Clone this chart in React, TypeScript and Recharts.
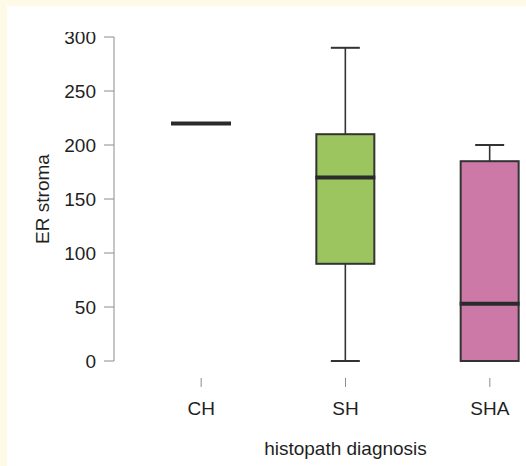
import React from 'react';
import { ComposedChart, Bar, XAxis, YAxis } from 'recharts';

const categories = ['CH', 'SH', 'SHA'];
const mins = [220, 0, 0];
const q1s = [220, 90, 0];
const medians = [220, 170, 53];
const q3s = [220, 210, 185];
const maxs = [220, 290, 200];
const fills = ['#ffffff', '#9cc45f', '#cc79a7'];
const yTicks = [0, 50, 100, 150, 200, 250, 300];

const data = categories.map((c, i) => ({
  name: c,
  min: mins[i],
  q1: q1s[i],
  median: medians[i],
  q3: q3s[i],
  max: maxs[i],
  fill: fills[i],
}));

const FONT = '"Liberation Sans", Arial, sans-serif';
const TEXT = '#1f1f1f';
const LINE = '#333333';

const BoxShape = (props: any) => {
  const { x, y, width, height, payload } = props;
  if (!payload || !payload.max) return null;
  const scale = height / payload.max;
  const toY = (v: number) => y + height - v * scale;
  const cx = x + width / 2;
  const capHalf = width / 4;
  const els: React.ReactNode[] = [];
  if (payload.max > payload.q3) {
    els.push(<line key="uw" x1={cx} x2={cx} y1={toY(payload.q3)} y2={toY(payload.max)} stroke={LINE} strokeWidth={1.6} />);
    els.push(<line key="uc" x1={cx - capHalf} x2={cx + capHalf} y1={toY(payload.max)} y2={toY(payload.max)} stroke={LINE} strokeWidth={2} />);
  }
  if (payload.min < payload.q1) {
    els.push(<line key="lw" x1={cx} x2={cx} y1={toY(payload.q1)} y2={toY(payload.min)} stroke={LINE} strokeWidth={1.6} />);
    els.push(<line key="lc" x1={cx - capHalf} x2={cx + capHalf} y1={toY(payload.min)} y2={toY(payload.min)} stroke={LINE} strokeWidth={2} />);
  }
  if (payload.q3 > payload.q1) {
    els.push(
      <rect key="box" x={x} y={toY(payload.q3)} width={width} height={toY(payload.q1) - toY(payload.q3)} fill={payload.fill} stroke={LINE} strokeWidth={2} />
    );
  }
  els.push(<line key="med" x1={x - 1} x2={x + width + 1} y1={toY(payload.median)} y2={toY(payload.median)} stroke="#2b2b2b" strokeWidth={4} />);
  return <g>{els}</g>;
};

const XTick = (props: any) => {
  const { x, y, payload } = props;
  return (
    <g>
      <line x1={x} x2={x} y1={y + 17} y2={y + 26} stroke="#8c8c8c" strokeWidth={1} />
      <text x={x} y={y + 54} textAnchor="middle" fontSize={19} fontFamily={FONT} fill={TEXT}>
        {payload.value}
      </text>
    </g>
  );
};

const YTitle = (props: any) => {
  const vb = props.viewBox || { x: 0, y: 0, width: 0, height: 0 };
  const tx = vb.x + 49;
  const ty = vb.y + vb.height / 2;
  return (
    <text x={tx} y={ty} transform={`rotate(-90, ${tx}, ${ty})`} textAnchor="middle" fontSize={19} fontFamily={FONT} fill={TEXT}>
      ER stroma
    </text>
  );
};

const XTitle = (props: any) => {
  const vb = props.viewBox || { x: 0, y: 0, width: 0, height: 0 };
  const tx = vb.x + vb.width / 2;
  const ty = vb.y + vb.height - 11;
  return (
    <text x={tx} y={ty} textAnchor="middle" fontSize={19} fontFamily={FONT} fill={TEXT}>
      histopath diagnosis
    </text>
  );
};

export default function App() {
  return (
    <div style={{ position: 'absolute', left: 0, top: 0, width: 526, height: 466, background: '#fefae8', overflow: 'hidden' }}>
      <div style={{ position: 'absolute', left: 7, top: 6, width: 519, height: 460, background: '#ffffff' }} />
      <div style={{ position: 'absolute', left: 0, top: 32, width: 526, height: 434, overflow: 'hidden' }}>
        <ComposedChart width={577} height={434} data={data} margin={{ top: 5, right: 0, bottom: 0, left: 0 }}>
          <XAxis
            dataKey="name"
            type="category"
            padding={{ left: 15, right: 15 }}
            height={105}
            axisLine={false}
            tickLine={false}
            tickSize={0}
            tickMargin={0}
            tick={<XTick />}
            interval={0}
            label={<XTitle />}
          />
          <YAxis
            type="number"
            domain={[0, 300]}
            ticks={yTicks}
            width={114}
            axisLine={{ stroke: '#8c8c8c', strokeWidth: 1 }}
            tickLine={{ stroke: '#8c8c8c', strokeWidth: 1 }}
            tickSize={10}
            tickMargin={8}
            tick={{ fontSize: 19, fontFamily: FONT, fill: TEXT }}
            interval={0}
            label={<YTitle />}
          />
          <Bar dataKey={(d: any) => [0, d.max]} barSize={58} shape={(p: any) => <BoxShape {...p} />} isAnimationActive={false} />
        </ComposedChart>
      </div>
    </div>
  );
}
